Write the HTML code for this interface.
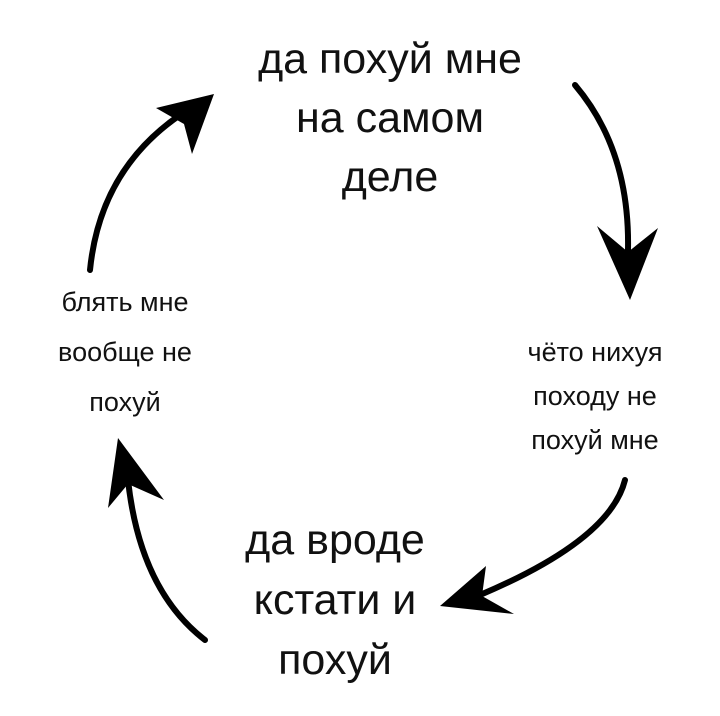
<!DOCTYPE html>
<html><head><meta charset="utf-8"><style>
html,body{margin:0;padding:0;background:#fff;}
body{width:720px;height:716px;position:relative;overflow:hidden;font-family:"Liberation Sans","DejaVu Sans",sans-serif;color:#111;}
.t{position:absolute;text-align:center;white-space:nowrap;}
.big{font-size:43px;line-height:59px;}
.sm{font-size:27px;line-height:46px;}
svg{position:absolute;left:0;top:0;}
</style></head><body>
<div class="t big" style="left:240px;width:300px;top:30px;">да похуй мне<br>на самом<br>деле</div>
<div class="t sm" style="left:25px;width:200px;top:277px;line-height:50px;">блять мне<br>вообще не<br>похуй</div>
<div class="t sm" style="left:495px;width:200px;top:330px;line-height:44px;">чёто нихуя<br>походу не<br>похуй мне</div>
<div class="t big" style="left:200px;width:270px;top:510px;line-height:60px;">да вроде<br>кстати и<br>похуй</div>
<svg width="720" height="716" viewBox="0 0 720 716">
<g fill="none" stroke="#000" stroke-width="6" stroke-linecap="round">
<path d="M90 270 Q100 170 180 115"/>
<path d="M575 85 Q630 150 628 250"/>
<path d="M625 480 Q610 540 480 595"/>
<path d="M205 640 Q140 590 128 480"/>
</g>
<g fill="#000">
<polygon points="214,94 156,108 184,124 192,154"/>
<polygon points="630,300 597,226 628,252 658,228"/>
<polygon points="440,606 486,566 482,596 514,614"/>
<polygon points="118,438 108,508 128,484 164,500"/>
</g>
</svg>
</body></html>
